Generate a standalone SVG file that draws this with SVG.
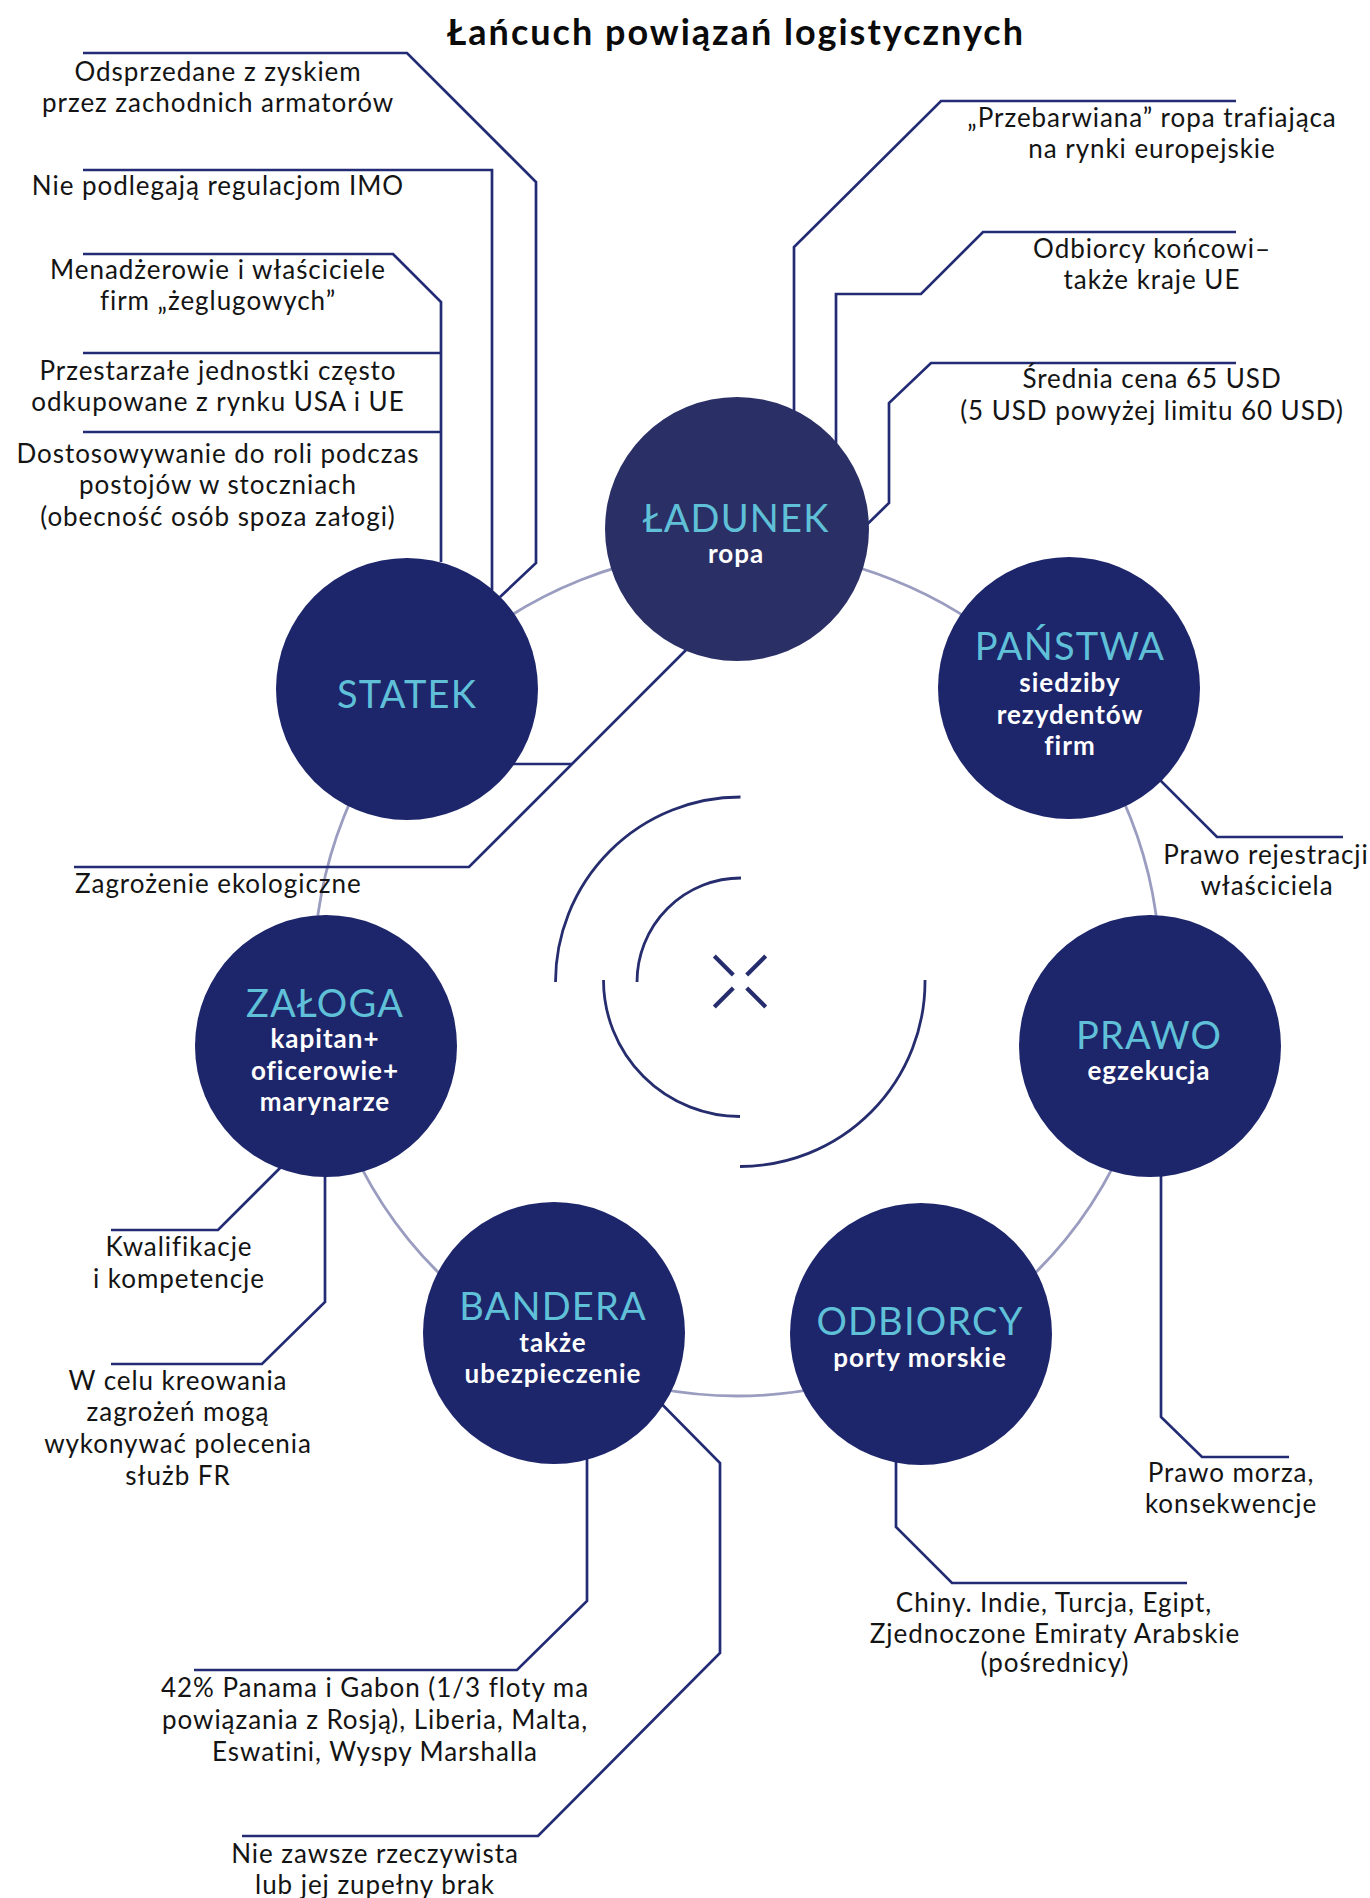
<svg xmlns="http://www.w3.org/2000/svg" width="1370" height="1898" viewBox="0 0 1370 1898">
<style>
.t{font-family:Lato,"Liberation Sans",sans-serif;font-size:26px;letter-spacing:0.95px;fill:#141414;text-anchor:middle}
.ts{text-anchor:start}
.title{font-family:Lato,"Liberation Sans",sans-serif;font-size:36px;letter-spacing:2px;font-weight:700;fill:#0b0b0b;text-anchor:middle}
.n{fill:#1d256b}
.n2{fill:#2a2f66}
.h{font-family:Lato,"Liberation Sans",sans-serif;font-size:38px;letter-spacing:1.2px;fill:#5fc0d8;text-anchor:middle}
.s{font-family:Lato,"Liberation Sans",sans-serif;font-size:26px;letter-spacing:1px;font-weight:700;fill:#ffffff;text-anchor:middle}
.c{fill:none;stroke:#222b74;stroke-width:2.7}
.ring{fill:none;stroke:#9a9dc0;stroke-width:2.8}
.arc{fill:none;stroke:#262d6e;stroke-width:2.8}
.x{fill:none;stroke:#262d6e;stroke-width:4.2}
</style>
<rect width="1370" height="1898" fill="#ffffff"/>
<text class="title" x="736" y="45">Łańcuch powiązań logistycznych</text>
<circle class="ring" cx="737" cy="973" r="423"/>
<g id="center">
<path class="arc" d="M740.5,797 A185,185 0 0 0 555.5,982"/>
<path class="arc" d="M741,878 A104,104 0 0 0 637,982"/>
<path class="arc" d="M603.5,980 A136.5,136.5 0 0 0 740,1116.5"/>
<path class="arc" d="M925,980 A185,185 0 0 1 740,1166.5"/>
<path class="x" d="M714.3,956 L733.3,975 M746.7,975 L765.7,956 M714.3,1007 L733.3,988 M746.7,988 L765.7,1007"/>
</g>
<g id="connectors">
<path class="c" d="M83,53 H407 L536,182 V563 L500,597"/>
<path class="c" d="M83,170 H492 V590"/>
<path class="c" d="M83,254 H393 L441,302 V562"/>
<path class="c" d="M83,353 H441"/>
<path class="c" d="M83,432 H441"/>
<path class="c" d="M480,764 H572"/>
<path class="c" d="M690,646 L469,867 H74"/>
<path class="c" d="M1236,101 H941 L794,247 V427"/>
<path class="c" d="M1236,232 H983 L921,294 H836 V450"/>
<path class="c" d="M1236,363 H931 L889,403 V503 L847,544"/>
<path class="c" d="M1069,689 L1217,837 H1343"/>
<path class="c" d="M1161,1046 V1417 L1202,1457 H1289"/>
<path class="c" d="M896,1334 V1527 L952,1583 H1187"/>
<path class="c" d="M587,1333 V1601 L517,1670 H194"/>
<path class="c" d="M640,1382 L720,1463 V1653 L538,1836 H242"/>
<path class="c" d="M300,1148 L218,1230 H111"/>
<path class="c" d="M325,1046 V1302 L262,1364 H111"/>
</g>
<g id="node-ladunek">
<circle class="n2" cx="737" cy="529" r="132"/>
<text class="h" x="736" y="532">ŁADUNEK</text>
<text class="s" x="736" y="563">ropa</text>
</g>
<g id="node-statek">
<circle class="n" cx="407" cy="689" r="131"/>
<text class="h" x="407" y="708">STATEK</text>
</g>
<g id="node-panstwa">
<circle class="n" cx="1069" cy="688" r="131"/>
<text class="h" x="1070" y="660">PAŃSTWA</text>
<text class="s" x="1070" y="692">siedziby</text>
<text class="s" x="1070" y="724">rezydentów</text>
<text class="s" x="1070" y="755">firm</text>
</g>
<g id="node-prawo">
<circle class="n" cx="1150" cy="1046" r="131"/>
<text class="h" x="1149" y="1049">PRAWO</text>
<text class="s" x="1149" y="1080">egzekucja</text>
</g>
<g id="node-odbiorcy">
<circle class="n" cx="921" cy="1334" r="131"/>
<text class="h" x="920" y="1335">ODBIORCY</text>
<text class="s" x="920" y="1367">porty morskie</text>
</g>
<g id="node-bandera">
<circle class="n" cx="554" cy="1333" r="131"/>
<text class="h" x="553" y="1320">BANDERA</text>
<text class="s" x="553" y="1352">także</text>
<text class="s" x="553" y="1383">ubezpieczenie</text>
</g>
<g id="node-zaloga">
<circle class="n" cx="326" cy="1046" r="131"/>
<text class="h" x="325" y="1017">ZAŁOGA</text>
<text class="s" x="325" y="1048">kapitan+</text>
<text class="s" x="325" y="1080">oficerowie+</text>
<text class="s" x="325" y="1111">marynarze</text>
</g>
<g id="labels">
<text class="t" x="218" y="81">Odsprzedane z zyskiem</text>
<text class="t" x="218" y="112">przez zachodnich armatorów</text>
<text class="t" x="218" y="195">Nie podlegają regulacjom IMO</text>
<text class="t" x="218" y="279">Menadżerowie i właściciele</text>
<text class="t" x="218" y="310">firm „żeglugowych”</text>
<text class="t" x="218" y="380">Przestarzałe jednostki często</text>
<text class="t" x="218" y="411">odkupowane z rynku USA i UE</text>
<text class="t" x="218" y="463">Dostosowywanie do roli podczas</text>
<text class="t" x="218" y="494">postojów w stoczniach</text>
<text class="t" x="218" y="526">(obecność osób spoza załogi)</text>
<text class="t ts" x="75" y="893">Zagrożenie ekologiczne</text>
<text class="t" x="1152" y="127">„Przebarwiana” ropa trafiająca</text>
<text class="t" x="1152" y="158">na rynki europejskie</text>
<text class="t" x="1152" y="258">Odbiorcy końcowi–</text>
<text class="t" x="1152" y="289">także kraje UE</text>
<text class="t" x="1152" y="388">Średnia cena 65 USD</text>
<text class="t" x="1152" y="420">(5 USD powyżej limitu 60 USD)</text>
<text class="t" x="1266" y="864">Prawo rejestracji</text>
<text class="t" x="1267" y="895">właściciela</text>
<text class="t" x="1231" y="1482">Prawo morza,</text>
<text class="t" x="1231" y="1513">konsekwencje</text>
<text class="t" x="1054" y="1612">Chiny. Indie, Turcja, Egipt,</text>
<text class="t" x="1055" y="1643">Zjednoczone Emiraty Arabskie</text>
<text class="t" x="1055" y="1672">(pośrednicy)</text>
<text class="t" x="375" y="1697">42% Panama i Gabon (1/3 floty ma</text>
<text class="t" x="375" y="1729">powiązania z Rosją), Liberia, Malta,</text>
<text class="t" x="375" y="1761">Eswatini, Wyspy Marshalla</text>
<text class="t" x="375" y="1863">Nie zawsze rzeczywista</text>
<text class="t" x="375" y="1894">lub jej zupełny brak</text>
<text class="t" x="179" y="1256">Kwalifikacje</text>
<text class="t" x="179" y="1288">i kompetencje</text>
<text class="t" x="178" y="1390">W celu kreowania</text>
<text class="t" x="178" y="1421">zagrożeń mogą</text>
<text class="t" x="178" y="1453">wykonywać polecenia</text>
<text class="t" x="178" y="1485">służb FR</text>
</g>
</svg>
